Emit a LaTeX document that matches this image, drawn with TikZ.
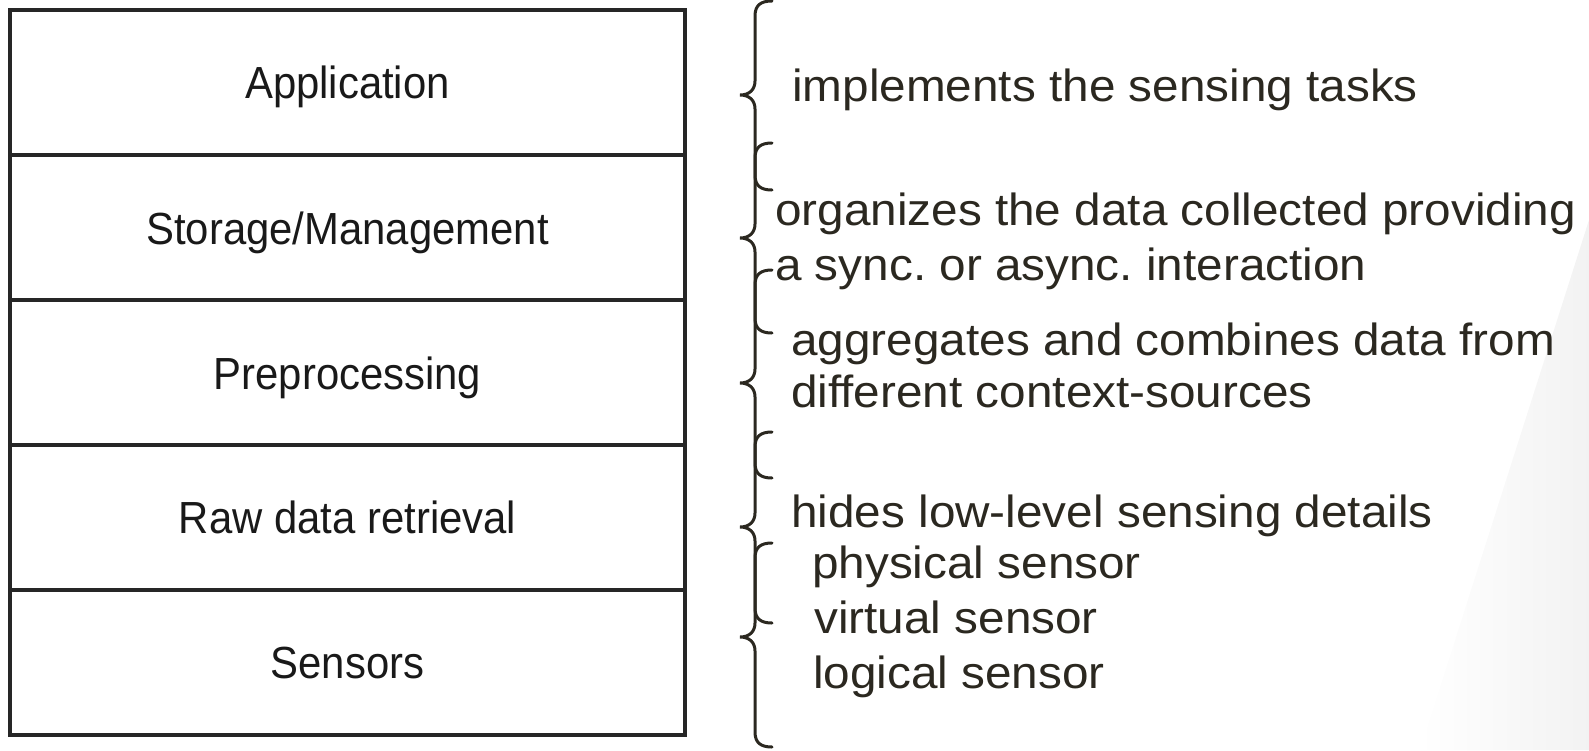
\documentclass[tikz,border=0pt]{standalone}
\usepackage{fontspec}
\setmainfont{Liberation Sans}
\newfontfamily\lblfont[FakeStretch=0.93]{Liberation Sans}
\newfontfamily\descfont[FakeStretch=1.06]{Liberation Sans}
\definecolor{ink}{HTML}{2B2820}
\newcommand\mybrace[3]{%
  \draw[bracestyle] (772,#1) .. controls (761,#1) and (755,#1+4) .. (755,#1+15)
    -- (755,#2-14) .. controls (755,#2-5) and (749,#2) .. (740,#2)
    .. controls (749,#2) and (755,#2+5) .. (755,#2+14)
    -- (755,#3-15) .. controls (755,#3-4) and (761,#3) .. (772,#3);}
\begin{document}
\frenchspacing
\begin{tikzpicture}[x=1pt,y=-1pt,
  layer/.style={draw=black!85, line width=3.4pt, minimum width=675pt,
    minimum height=145pt, inner sep=0pt, outer sep=0pt, anchor=north west},
  lbl/.style={anchor=base, inner sep=0pt, text=black!90,
    font=\lblfont\fontsize{45}{50}\selectfont},
  desc/.style={anchor=base west, inner sep=0pt, text=ink,
    font=\descfont\fontsize{45}{50}\selectfont},
  bracestyle/.style={draw=ink, line width=3pt, line cap=round}]
\useasboundingbox (0,0) rectangle (1589,750);
\shade[left color=white, right color=black!5] (1420,750) -- (1589,220) -- (1589,750) -- cycle;
% layers
\node[layer] (app) at (10,10) {};
\node[layer] (sto) at (10,155) {};
\node[layer] (pre) at (10,300) {};
\node[layer] (raw) at (10,445) {};
\node[layer] (sen) at (10,590) {};
\node[lbl] (tapp) at (347.5,98.5) {Application};
\node[lbl] (tsto) at (347.5,244) {Storage/Management};
\node[lbl] (tpre) at (347.5,389) {Preprocessing};
\node[lbl] (traw) at (347.5,533.5) {Raw data retrieval};
\node[lbl] (tsen) at (347.5,678.5) {Sensors};
% braces
\mybrace{1}{95}{190}
\mybrace{143}{238}{333}
\mybrace{270}{383}{478}
\mybrace{432}{527}{623}
\mybrace{543}{637}{747}
% descriptions
\node[desc] (d1) at (792,101.7) {implements the sensing tasks};
\node[desc] (d2a) at (775,225) {organizes the data collected providing};
\node[desc] (d2b) at (775,280) {a sync. or async. interaction};
\node[desc] (d3a) at (791,355) {aggregates and combines data from};
\node[desc] (d3b) at (791,407) {different context-sources};
\node[desc] (d4) at (791,527) {hides low-level sensing details};
\node[desc] (s1) at (812,578) {physical sensor};
\node[desc] (s2) at (814,633) {virtual sensor};
\node[desc] (s3) at (813,688) {logical sensor};
\end{tikzpicture}
\end{document}
